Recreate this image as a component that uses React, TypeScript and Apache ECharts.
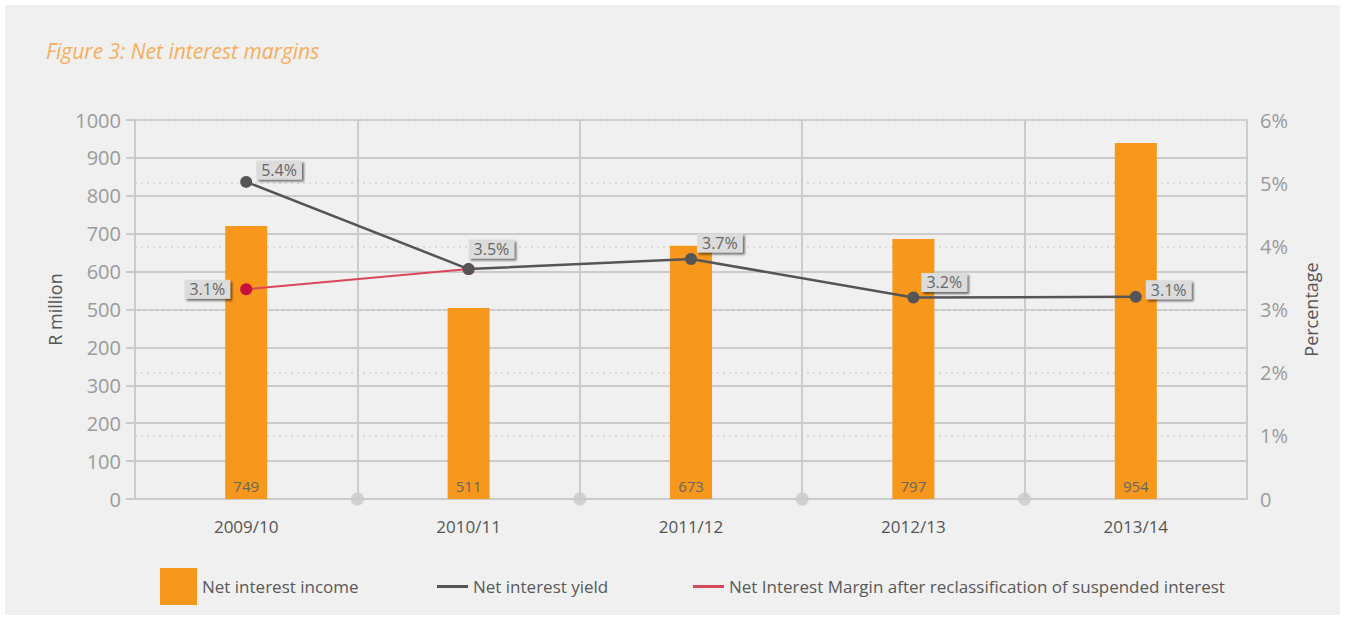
import React, { useEffect, useRef } from "react";
import * as echarts from "echarts";

const categories = ["2009/10", "2010/11", "2011/12", "2012/13", "2013/14"];
// bar heights as drawn against the left axis
const incomeValues = [720, 504, 668, 686, 939];
// values printed on the bars
const incomeLabels = ["749", "511", "673", "797", "954"];
const yieldValues = [5.02, 3.64, 3.8, 3.19, 3.2];
const yieldLabels = ["5.4%", "3.5%", "3.7%", "3.2%", "3.1%"];
const nimValues = [3.32, 3.64, null, null, null];
const nimLabels = ["3.1%", "", "", "", ""];
const leftTickLabels = ["0", "100", "200", "300", "200", "500", "600", "700", "800", "900", "1000"];
const boundaryDots = [1, 2, 3, 4];

const FONT = "'Open Sans', 'Noto Sans', sans-serif";
const yieldLabelOffsets = [[4, -12], [-6, -20], [0, -16], [2, -15], [4, -7]];

export default function App() {
  const ref = useRef<HTMLDivElement>(null);
  useEffect(() => {
    const chart = echarts.init(ref.current!, null, { renderer: "svg" });
    const labelBox = {
      backgroundColor: "#dcdcdc",
      padding: [2, 5, 1, 5],
      color: "#666",
      fontSize: 16,
      fontFamily: FONT,
      shadowColor: "rgba(0,0,0,0.55)",
      shadowBlur: 2,
      shadowOffsetX: 2,
      shadowOffsetY: 2,
    };
    const legendText = { color: "#595959", fontSize: 17, fontFamily: FONT };
    chart.setOption({
      animation: false,
      backgroundColor: "transparent",
      textStyle: { fontFamily: FONT },
      graphic: [
        { type: "rect", shape: { x: 5, y: 5, width: 1335, height: 610 }, style: { fill: "#f0f0f0" }, z: -10, silent: true },
        {
          type: "text",
          left: 46,
          top: 40,
          style: { text: "Figure 3: Net interest margins", fill: "#f9ad5c", fontSize: 21, fontStyle: "italic", fontFamily: FONT },
        },
      ],
      grid: { left: 135, right: 98, top: 120, bottom: 121, containLabel: false },
      legend: [
        { data: ["Net interest income"], left: 160, top: 568, padding: 0, icon: "rect", itemWidth: 37, itemHeight: 37, textStyle: legendText },
        { data: ["Net interest yield"], left: 437, top: 578, padding: 0, icon: "rect", itemWidth: 31, itemHeight: 3, itemStyle: { color: "#555" }, textStyle: legendText },
        {
          data: ["Net Interest Margin after reclassification of suspended interest"],
          left: 693,
          top: 578,
          padding: 0,
          icon: "rect",
          itemWidth: 31,
          itemHeight: 3,
          itemStyle: { color: "#d9475a" },
          textStyle: legendText,
        },
      ],
      xAxis: [
        {
          type: "category",
          data: categories,
          boundaryGap: true,
          axisLine: { lineStyle: { color: "#cbcbcb", width: 2 } },
          axisTick: { show: false },
          axisLabel: { color: "#555", fontSize: 17, margin: 19, fontFamily: FONT },
          splitLine: { show: true, lineStyle: { color: "#cbcbcb", width: 2 } },
        },
        { type: "value", min: 0, max: 5, show: false },
      ],
      yAxis: [
        {
          type: "value",
          min: 0,
          max: 1000,
          interval: 100,
          name: "R million",
          nameLocation: "middle",
          nameGap: 68,
          nameTextStyle: { color: "#555", fontSize: 18, fontFamily: FONT },
          axisLine: { show: true, lineStyle: { color: "#cbcbcb", width: 2 } },
          axisTick: { show: true, length: 9, lineStyle: { color: "#cbcbcb", width: 2 } },
          axisLabel: {
            color: "#9a9a9a",
            fontSize: 20,
            margin: 14,
            fontFamily: FONT,
            formatter: (v: number) => leftTickLabels[Math.round(v / 100)] ?? String(v),
          },
          splitLine: { show: true, lineStyle: { color: "#cbcbcb", width: 2 } },
        },
        {
          type: "value",
          min: 0,
          max: 6,
          interval: 1,
          name: "Percentage",
          nameLocation: "middle",
          nameGap: 55,
          nameTextStyle: { color: "#555", fontSize: 18, fontFamily: FONT },
          axisLine: { show: true, lineStyle: { color: "#cbcbcb", width: 2 } },
          axisTick: { show: false },
          axisLabel: {
            color: "#9a9a9a",
            fontSize: 20,
            margin: 13,
            fontFamily: FONT,
            formatter: (v: number) => (v === 0 ? "0" : v + "%"),
          },
          splitLine: { show: true, lineStyle: { color: "#d9d9d9", width: 2, type: [2, 4] } },
        },
      ],
      series: [
        {
          name: "Net interest income",
          type: "bar",
          data: incomeValues,
          barWidth: 42,
          itemStyle: { color: "#f7981d" },
          label: {
            show: true,
            position: "insideBottom",
            distance: 6,
            color: "#666",
            fontSize: 15,
            fontFamily: FONT,
            formatter: (p: any) => incomeLabels[p.dataIndex],
          },
          z: 2,
        },
        {
          name: "boundary",
          type: "scatter",
          xAxisIndex: 1,
          yAxisIndex: 0,
          data: boundaryDots.map((b) => [b, 0]),
          symbolSize: 13,
          itemStyle: { color: "#c9c9c9" },
          silent: true,
          z: 3,
        },
        {
          name: "Net Interest Margin after reclassification of suspended interest",
          type: "line",
          yAxisIndex: 1,
          data: nimValues.map((v, i) => ({ value: v, label: { show: !!nimLabels[i] } })),
          symbol: "circle",
          symbolSize: 12,
          lineStyle: { color: "#d9475a", width: 2 },
          itemStyle: { color: "#c8103e" },
          connectNulls: false,
          label: {
            show: true,
            position: "left",
            distance: 10,
            formatter: (p: any) => nimLabels[p.dataIndex],
            ...labelBox,
          },
          z: 4,
        },
        {
          name: "Net interest yield",
          type: "line",
          yAxisIndex: 1,
          data: yieldValues.map((v, i) => ({ value: v, label: { offset: yieldLabelOffsets[i] } })),
          symbol: "circle",
          symbolSize: 12,
          lineStyle: { color: "#555", width: 2.5 },
          itemStyle: { color: "#555" },
          label: {
            show: true,
            position: "right",
            distance: 0,
            formatter: (p: any) => yieldLabels[p.dataIndex],
            ...labelBox,
          },
          z: 5,
        },
      ],
    });
    return () => chart.dispose();
  }, []);
  return (
    <div style={{ position: "fixed", left: 0, top: 0, width: 1345, height: 620, background: "#fff" }}>
      <div ref={ref} style={{ width: 1345, height: 620 }} />
    </div>
  );
}
